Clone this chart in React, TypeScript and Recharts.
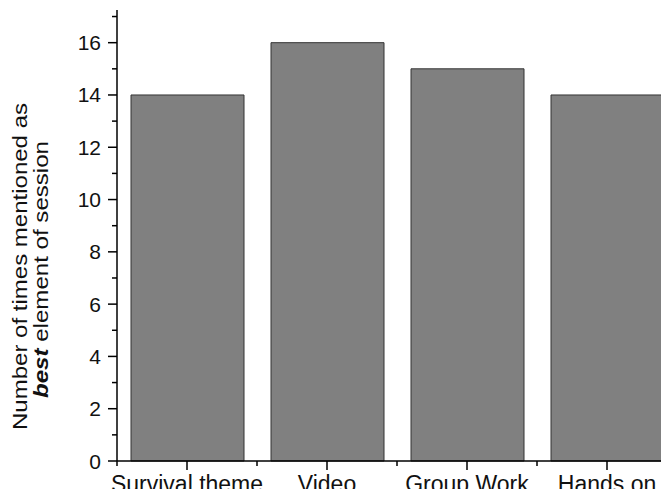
import { BarChart, Bar, XAxis, YAxis, Label } from 'recharts';

const categories = ['Survival theme', 'Video', 'Group Work', 'Hands on'];
const mentions = [14, 16, 15, 14];
const yTicks = [0, 1, 2, 3, 4, 5, 6, 7, 8, 9, 10, 11, 12, 13, 14, 15, 16, 17];

const data = categories.map((name, i) => ({ name, value: mentions[i] }));

const FONT = '"Liberation Sans", Arial, sans-serif';
const AXIS_LEFT = 117;
const PLOT_W = 560;
const HALF_BAND = PLOT_W / categories.length / 2;

const YTick = (props: any) => {
  const { x, y, payload } = props;
  const major = payload.value % 2 === 0;
  return (
    <g>
      <line x1={x - (major ? 9 : 5)} y1={y} x2={x} y2={y} stroke="#000" strokeWidth={1.5} />
      {major && (
        <text x={x - 16} y={y} dy={7.5} textAnchor="end" fontSize={21} fontFamily={FONT} fill="#111">
          {payload.value}
        </text>
      )}
    </g>
  );
};

const XTick = (props: any) => {
  const { x, y, payload, index } = props;
  return (
    <g>
      <line x1={x} y1={y} x2={x} y2={y + 9} stroke="#000" strokeWidth={1.5} />
      <line x1={x - HALF_BAND} y1={y} x2={x - HALF_BAND} y2={y + 5} stroke="#000" strokeWidth={1.5} />
      {index === categories.length - 1 && (
        <line x1={x + HALF_BAND} y1={y} x2={x + HALF_BAND} y2={y + 5} stroke="#000" strokeWidth={1.5} />
      )}
      <text x={x} y={y + 31} textAnchor="middle" fontSize={23} fontFamily={FONT} fill="#111">
        {payload.value}
      </text>
    </g>
  );
};

const YLabel = () => (
  <g fontFamily={FONT} fontSize={21} fill="#111">
    <text
      x={27}
      y={266.5}
      textAnchor="middle"
      textLength={327}
      lengthAdjust="spacingAndGlyphs"
      transform="rotate(-90 27 266.5)"
    >
      Number of times mentioned as
    </text>
    <text
      x={48}
      y={269.5}
      textAnchor="middle"
      textLength={257}
      lengthAdjust="spacingAndGlyphs"
      transform="rotate(-90 48 269.5)"
    >
      <tspan fontWeight="bold" fontStyle="italic">best</tspan>
      <tspan> element of session</tspan>
    </text>
  </g>
);

export default function App() {
  return (
    <div style={{ margin: -8, width: 669, height: 497, overflow: 'hidden', background: '#fff' }}>
      <BarChart
        width={AXIS_LEFT + PLOT_W}
        height={497}
        data={data}
        margin={{ top: 10, right: 0, bottom: 0, left: 0 }}
        barSize={113}
      >
        <XAxis
          dataKey="name"
          height={36}
          tickSize={0}
          tickMargin={0}
          tickLine={false}
          interval={0}
          axisLine={{ stroke: '#000', strokeWidth: 1.5 }}
          tick={<XTick />}
        />
        <YAxis
          width={AXIS_LEFT}
          domain={[0, 17.25]}
          ticks={yTicks}
          interval={0}
          tickSize={0}
          tickMargin={0}
          tickLine={false}
          axisLine={{ stroke: '#000', strokeWidth: 1.5 }}
          tick={<YTick />}
        >
          <Label content={<YLabel />} />
        </YAxis>
        <Bar dataKey="value" fill="#808080" stroke="#333" strokeWidth={1} isAnimationActive={false} />
      </BarChart>
    </div>
  );
}
